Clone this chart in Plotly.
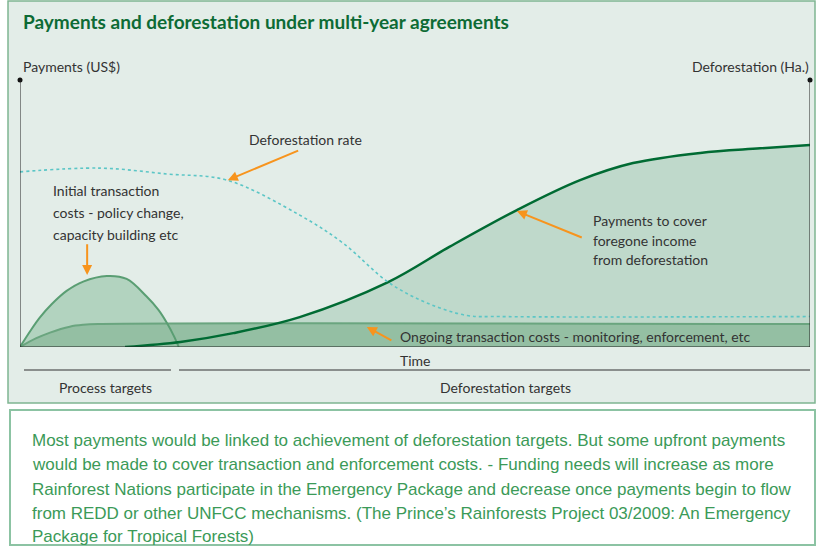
import plotly.graph_objects as go

W, H = 816, 546
L, R, T, B = 20, 810, 80, 347  # plot area in pixels

# ---- data (x: time 0-100, y: relative payment/deforestation level 0-100) ----
hump_x = [0, 1.3, 2.5, 4, 5.9, 8, 11, 13.5, 16, 17.5, 18.6, 19.5, 20.1]
hump_y = [0, 6, 11, 16, 21, 24.5, 26.6, 25.5, 19, 14, 9, 4, 0]

ongoing_x = [0, 2, 3.8, 6.3, 8, 9.9, 100]
ongoing_y = [0, 3.2, 5.4, 7.6, 8.3, 8.6, 8.6]

pay_x = [13.3, 20.3, 27, 35.4, 46.6, 54.4, 62.9, 70.9, 77.6, 86.1, 93.7, 100]
pay_y = [0, 1.9, 5.2, 11.2, 24.3, 37.6, 51.3, 62.5, 68.9, 72.7, 74.4, 75.7]

defo_x = [0, 10.1, 18.6, 26.2, 35.4, 40.9, 46.6, 51.5, 56.6, 60.8, 100]
defo_y = [65.6, 67.0, 64.8, 62.5, 49.4, 38.9, 24.3, 16.5, 11.8, 11.4, 11.4]

title = "Payments and deforestation under multi-year agreements"
caption_lines = [
    "Most payments would be linked to achievement of deforestation targets. But some upfront payments",
    "would be made to cover transaction and enforcement costs. - Funding needs will increase as more",
    "Rainforest Nations participate in the Emergency Package and decrease once payments begin to flow",
    "from REDD or other UNFCC mechanisms. (The Prince\u2019s Rainforests Project 03/2009: An Emergency",
    "Package for Tropical Forests)",
]

# ---- colours ----
PANEL = "#e3ede8"
PANEL_LINE = "#7fb591"
PAY_FILL = "#bfd9cb"
HUMP_FILL = "#b2d3bf"
ONG_FILL = "#94bfa3"
HUMP_LINE = "#5a9e73"
ONG_LINE = "#6aa57f"
DARK = "#006b33"
DOT = "#5cc6c6"
ORANGE = "#f7941d"
TXT = "#333333"
CAP = "#3b9a58"


def px(x):
    return (x - L) / (R - L)


def py(y):
    return (B - y) / (B - T)


fig = go.Figure()
fig.add_trace(go.Scatter(x=pay_x, y=pay_y, fill="tozeroy", fillcolor=PAY_FILL,
                         mode="lines", line=dict(width=0, shape="spline"), hoverinfo="skip"))
fig.add_trace(go.Scatter(x=hump_x, y=hump_y, fill="tozeroy", fillcolor=HUMP_FILL,
                         mode="lines", line=dict(width=0, shape="spline"), hoverinfo="skip"))
fig.add_trace(go.Scatter(x=ongoing_x, y=ongoing_y, fill="tozeroy", fillcolor=ONG_FILL,
                         mode="lines", line=dict(width=0, shape="spline"), hoverinfo="skip"))
fig.add_trace(go.Scatter(x=ongoing_x, y=ongoing_y, mode="lines",
                         line=dict(color=ONG_LINE, width=2, shape="spline"), hoverinfo="skip"))
fig.add_trace(go.Scatter(x=hump_x, y=hump_y, mode="lines",
                         line=dict(color=HUMP_LINE, width=2, shape="spline"), hoverinfo="skip"))
fig.add_trace(go.Scatter(x=pay_x, y=pay_y, mode="lines",
                         line=dict(color=DARK, width=2.5, shape="spline"), hoverinfo="skip"))
fig.add_trace(go.Scatter(x=defo_x, y=defo_y, mode="lines",
                         line=dict(color=DOT, width=1.6, dash="dot", shape="spline"), hoverinfo="skip"))
fig.add_trace(go.Scatter(x=[0, 100], y=[100, 100], mode="markers", cliponaxis=False,
                         marker=dict(color="#111", size=5), hoverinfo="skip"))

shapes = [
    # panels
    dict(type="rect", xref="paper", yref="paper", x0=px(8), x1=px(815), y0=py(1), y1=py(403),
         fillcolor=PANEL, line=dict(color=PANEL_LINE, width=1.5), layer="below"),
    dict(type="rect", xref="paper", yref="paper", x0=px(10), x1=px(815), y0=py(410), y1=py(545),
         fillcolor="white", line=dict(color="#8cc3a3", width=2), layer="below"),
    # axes
    dict(type="line", xref="x", yref="y", x0=0, x1=0, y0=0, y1=100, line=dict(color="#222", width=1)),
    dict(type="line", xref="x", yref="y", x0=100, x1=100, y0=0, y1=100, line=dict(color="#222", width=1)),
    dict(type="line", xref="x", yref="y", x0=0, x1=100, y0=0, y1=0, line=dict(color="#222", width=1)),
    # target lines
    dict(type="line", xref="paper", yref="paper", x0=px(24), x1=px(171), y0=py(370), y1=py(370),
         line=dict(color="#333", width=1.2)),
    dict(type="line", xref="paper", yref="paper", x0=px(179), x1=px(810), y0=py(370), y1=py(370),
         line=dict(color="#333", width=1.2)),
]

FONT = "Lato, Open Sans, sans-serif"
ann = []


def text(x, y, s, size=14, color=TXT, xanchor="left", family=FONT, **kw):
    ann.append(dict(xref="paper", yref="paper", x=px(x), y=py(y), text=s, showarrow=False,
                    xanchor=xanchor, yanchor="middle", align="left",
                    font=dict(size=size, color=color, family=family), **kw))


def arrow(tx, ty, hx, hy):
    ann.append(dict(xref="x", yref="y", axref="x", ayref="y", x=hx, y=hy, ax=tx, ay=ty, text="",
                    showarrow=True, arrowhead=2, arrowsize=1, arrowwidth=2, arrowcolor=ORANGE))


text(21, 22, "<b>" + title + "</b>", size=19, color="#0d6b35")
text(21, 66, "Payments (US$)")
text(811, 66, "Deforestation (Ha.)", xanchor="right")
text(247, 139, "Deforestation rate")
text(51, 190, "Initial transaction")
text(51, 212, "costs - policy change,")
text(51, 234, "capacity building etc")
text(591, 220, "Payments to cover")
text(591, 240, "foregone income")
text(591, 259, "from deforestation")
text(398, 336, "Ongoing transaction costs - monitoring, enforcement, etc")
text(398, 360, "Time")
text(105, 387, "Process targets", xanchor="center")
text(505, 387, "Deforestation targets", xanchor="center")

cap_y = [440, 464.5, 489, 513, 536]
for yy, s in zip(cap_y, caption_lines):
    text(30, yy, s, size=17, color=CAP, family="Liberation Sans Narrow, Liberation Sans, sans-serif")

arrow(35.4, 73.8, 26.3, 62.5)
arrow(8.5, 39.0, 8.5, 27.0)
arrow(71.3, 40.8, 62.9, 50.9)
arrow(47.2, 2.2, 43.9, 7.5)

fig.update_layout(
    width=W, height=H, margin=dict(l=L, r=W - R, t=T, b=H - B),
    paper_bgcolor="white", plot_bgcolor="rgba(0,0,0,0)", showlegend=False,
    xaxis=dict(range=[0, 100], visible=False, fixedrange=True),
    yaxis=dict(range=[0, 100], visible=False, fixedrange=True),
    shapes=shapes, annotations=ann,
)
fig.write_html("out.html", config={"displayModeBar": False},
               post_script="document.body.style.margin='0';document.body.style.overflow='hidden';")
